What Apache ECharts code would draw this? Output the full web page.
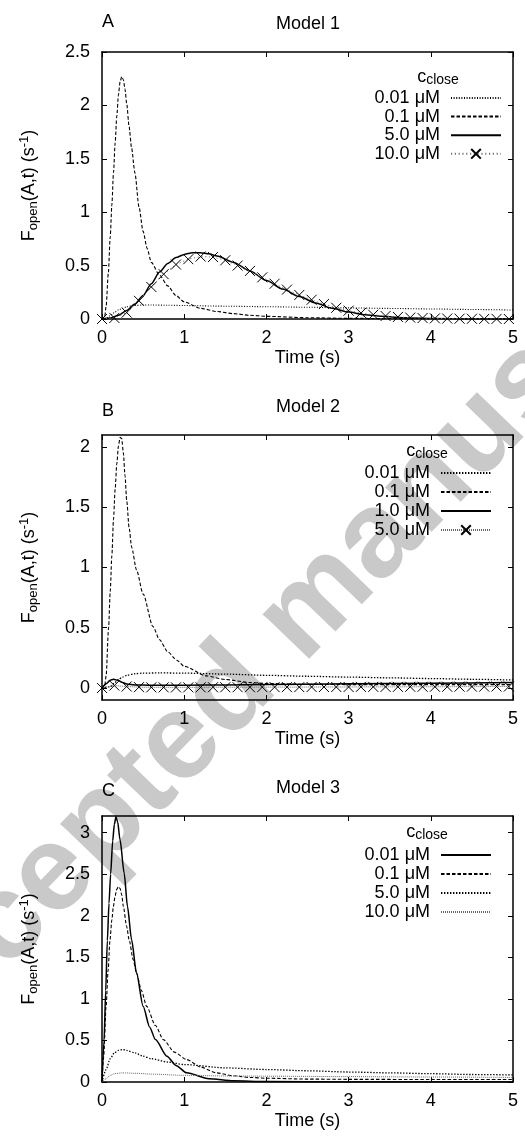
<!DOCTYPE html>
<html>
<head>
<meta charset="utf-8">
<script src="https://cdn.jsdelivr.net/npm/echarts@6/dist/echarts.min.js"></script>
<style>
  html, body { margin: 0; padding: 0; background: #fff; }
  #chart { width: 525px; height: 1142px; }
</style>
</head>
<body>
<div id="chart"></div>
<script>
// ---------------- data ----------------
const timeTicks = [0, 1, 2, 3, 4, 5];
const yTicksA = [0, 0.5, 1, 1.5, 2, 2.5];
const yTicksB = [0, 0.5, 1, 1.5, 2];
const yTicksC = [0, 0.5, 1, 1.5, 2, 2.5, 3];
const panelLetters = ['A', 'B', 'C'];
const panelTitles = ['Model 1', 'Model 2', 'Model 3'];
const legendA = ['0.01 μM', '0.1 μM', '5.0 μM', '10.0 μM'];
const legendB = ['0.01 μM', '0.1 μM', '1.0 μM', '5.0 μM'];
const legendC = ['0.01 μM', '0.1 μM', '5.0 μM', '10.0 μM'];
const watermarkText = 'Accepted manuscript';

// Model 1
const tA1 = [0, 0.05, 0.1, 0.15, 0.2, 0.25, 0.3, 0.4, 0.5, 0.6, 0.8, 1.0, 1.5, 2.0, 2.5, 3.0, 3.5, 4.0, 4.5, 5.0];
const fA1 = [0, 0.005, 0.03, 0.06, 0.085, 0.1, 0.115, 0.127, 0.131, 0.131, 0.129, 0.126, 0.12, 0.115, 0.11, 0.104, 0.099, 0.094, 0.089, 0.084];
const tA2 = [0, 0.03, 0.05, 0.077, 0.1, 0.12, 0.14, 0.16, 0.18, 0.2, 0.22, 0.24, 0.26, 0.28, 0.3, 0.33, 0.36, 0.4, 0.45, 0.5, 0.55, 0.6, 0.7, 0.8, 0.9, 1.0, 1.2, 1.4, 1.6, 1.8, 2.0, 2.5, 3.0, 4.0, 5.0];
const fA2 = [0, 0, 0.12, 0.43, 0.77, 1.07, 1.37, 1.65, 1.9, 2.1, 2.22, 2.27, 2.24, 2.15, 2.02, 1.8, 1.6, 1.37, 1.05, 0.82, 0.66, 0.53, 0.41, 0.31, 0.22, 0.16, 0.1, 0.07, 0.05, 0.035, 0.025, 0.012, 0.006, 0.002, 0];
const tA3 = [0, 0.1, 0.2, 0.3, 0.4, 0.5, 0.6, 0.7, 0.8, 0.9, 1.0, 1.1, 1.2, 1.3, 1.4, 1.6, 1.8, 2.0, 2.2, 2.4, 2.6, 2.8, 3.0, 3.2, 3.4, 3.6, 3.8, 4.0, 4.5, 5.0];
const fA3 = [0, 0.01, 0.035, 0.08, 0.14, 0.22, 0.33, 0.44, 0.52, 0.575, 0.605, 0.62, 0.62, 0.61, 0.59, 0.53, 0.45, 0.36, 0.28, 0.21, 0.15, 0.1, 0.065, 0.04, 0.025, 0.015, 0.009, 0.005, 0.001, 0];
const tA4 = [0, 0.15, 0.3, 0.45, 0.6, 0.75, 0.9, 1.05, 1.2, 1.35, 1.5, 1.65, 1.8, 1.95, 2.1, 2.25, 2.4, 2.55, 2.7, 2.85, 3.0, 3.15, 3.3, 3.45, 3.6, 3.75, 3.9, 4.05, 4.2, 4.35, 4.5, 4.65, 4.8, 4.95];
const fA4 = [0, 0.01, 0.06, 0.17, 0.3, 0.42, 0.51, 0.56, 0.585, 0.58, 0.55, 0.5, 0.45, 0.39, 0.33, 0.275, 0.225, 0.18, 0.14, 0.105, 0.078, 0.056, 0.04, 0.028, 0.019, 0.013, 0.009, 0.006, 0.004, 0.003, 0.002, 0.001, 0.001, 0];

// Model 2
const tB1 = [0, 0.1, 0.15, 0.2, 0.25, 0.3, 0.4, 0.5, 0.7, 1.0, 1.5, 2.0, 2.5, 3.0, 3.5, 4.0, 4.5, 5.0];
const fB1 = [0, 0.01, 0.04, 0.07, 0.09, 0.105, 0.118, 0.123, 0.125, 0.123, 0.115, 0.105, 0.097, 0.09, 0.084, 0.078, 0.072, 0.066];
const tB2 = [0, 0.03, 0.05, 0.08, 0.1, 0.12, 0.14, 0.16, 0.18, 0.2, 0.22, 0.24, 0.26, 0.28, 0.3, 0.33, 0.36, 0.42, 0.5, 0.62, 0.7, 0.8, 0.91, 1.0, 1.27, 1.5, 1.8, 2.0, 2.5, 3.0, 4.0, 5.0];
const fB2 = [0, 0, 0.1, 0.5, 0.8, 1.1, 1.4, 1.65, 1.86, 2.01, 2.08, 2.07, 1.95, 1.76, 1.56, 1.33, 1.17, 0.98, 0.78, 0.51, 0.4, 0.3, 0.23, 0.18, 0.1, 0.07, 0.045, 0.037, 0.03, 0.028, 0.028, 0.028];
const tB3 = [0, 0.05, 0.1, 0.14, 0.2, 0.25, 0.3, 0.4, 0.6, 1.0, 1.5, 2.0, 3.0, 4.0, 5.0];
const fB3 = [0, 0.035, 0.065, 0.072, 0.062, 0.045, 0.033, 0.025, 0.022, 0.022, 0.025, 0.028, 0.034, 0.04, 0.045];
const tB4 = [0, 0.15, 0.3, 0.45, 0.6, 0.75, 0.9, 1.05, 1.2, 1.35, 1.5, 1.65, 1.8, 1.95, 2.1, 2.25, 2.4, 2.55, 2.7, 2.85, 3.0, 3.15, 3.3, 3.45, 3.6, 3.75, 3.9, 4.05, 4.2, 4.35, 4.5, 4.65, 4.8, 4.95];
const fB4 = [0, 0.02, 0.012, 0.007, 0.005, 0.005, 0.005, 0.005, 0.005, 0.006, 0.006, 0.006, 0.006, 0.007, 0.007, 0.007, 0.007, 0.008, 0.008, 0.008, 0.008, 0.009, 0.009, 0.009, 0.009, 0.01, 0.01, 0.01, 0.01, 0.011, 0.011, 0.011, 0.012, 0.012];

// Model 3
const tC1 = [0, 0.025, 0.045, 0.065, 0.085, 0.105, 0.13, 0.15, 0.17, 0.19, 0.22, 0.27, 0.31, 0.36, 0.42, 0.5, 0.58, 0.65, 0.79, 0.9, 1.03, 1.3, 1.6, 2.0, 3.0, 4.0, 5.0];
const fC1 = [0, 0.5, 1.1, 1.7, 2.15, 2.5, 2.9, 3.1, 3.19, 3.13, 2.91, 2.51, 2.11, 1.71, 1.31, 0.91, 0.66, 0.51, 0.31, 0.2, 0.11, 0.04, 0.015, 0.005, 0.001, 0, 0];
const tC2 = [0, 0.02, 0.05, 0.075, 0.097, 0.12, 0.138, 0.16, 0.18, 0.2, 0.22, 0.24, 0.26, 0.3, 0.33, 0.38, 0.42, 0.48, 0.543, 0.65, 0.746, 0.88, 1.03, 1.2, 1.39, 1.6, 1.8, 2.0, 2.5, 3.0, 4.0, 5.0];
const fC2 = [0, 0.3, 0.91, 1.35, 1.71, 1.95, 2.11, 2.24, 2.32, 2.35, 2.33, 2.25, 2.11, 1.87, 1.71, 1.47, 1.31, 1.1, 0.91, 0.68, 0.51, 0.36, 0.27, 0.18, 0.11, 0.075, 0.055, 0.045, 0.035, 0.032, 0.03, 0.03];
const tC3 = [0, 0.05, 0.1, 0.15, 0.2, 0.25, 0.3, 0.4, 0.5, 0.6, 0.8, 1.0, 1.5, 2.0, 2.5, 3.0, 3.5, 4.0, 4.5, 5.0];
const fC3 = [0, 0.15, 0.28, 0.35, 0.38, 0.39, 0.38, 0.35, 0.31, 0.28, 0.24, 0.21, 0.17, 0.15, 0.135, 0.12, 0.11, 0.1, 0.09, 0.085];
const tC4 = [0, 0.05, 0.1, 0.15, 0.25, 0.4, 0.6, 1.0, 1.5, 2.0, 3.0, 4.0, 5.0];
const fC4 = [0, 0.04, 0.08, 0.1, 0.11, 0.105, 0.095, 0.08, 0.073, 0.07, 0.065, 0.06, 0.055];

// ---------------- styling ----------------
const FONT = '"Liberation Sans", Arial, Helvetica, sans-serif';
const FS = 18;
const CROSS = 'path://M0 0L10 10M10 0L0 10';

const SOLID = { type: 'solid', width: 1.5, color: '#000' };
const DASHED = { type: [3.5, 2], width: 1.1, color: '#000' };
const DOTTED = { type: [1, 1.6], width: 1.1, color: '#000' };
const DOTTED_MED = { type: [1.4, 1.6], width: 1.3, color: '#000' };
const DOTTED_GREY = { type: [1.2, 2.6], width: 1, color: '#777' };
const DOTTED_FINE_GREY = { type: [1, 1], width: 1, color: '#666' };

const panels = [
  {
    grid: { left: 102, top: 52, width: 411, height: 267 },
    yMin: 0, yMax: 2.5, yTicks: yTicksA,
    legend: { names: legendA, right: 23, top: 88.7, lh: 18.6 },
    close: [438, 77], letterY: 22, titleY: 24,
    curves: [
      { t: tA1, f: fA1, line: DOTTED },
      { t: tA2, f: fA2, line: DASHED },
      { t: tA3, f: fA3, line: SOLID },
      { t: tA4, f: fA4, line: DOTTED_GREY, mark: true }
    ]
  },
  {
    grid: { left: 102, top: 435, width: 411, height: 265 },
    yMin: -0.1, yMax: 2.1, yTicks: yTicksB,
    legend: { names: legendB, right: 33, top: 463.5, lh: 19 },
    close: [427, 451], letterY: 411, titleY: 407.5,
    curves: [
      { t: tB1, f: fB1, line: DOTTED_MED },
      { t: tB2, f: fB2, line: DASHED },
      { t: tB3, f: fB3, line: SOLID },
      { t: tB4, f: fB4, line: DOTTED_FINE_GREY, mark: true }
    ]
  },
  {
    grid: { left: 102, top: 816, width: 411, height: 266 },
    yMin: 0, yMax: 3.2, yTicks: yTicksC,
    legend: { names: legendC, right: 33, top: 845.5, lh: 19 },
    close: [427, 832], letterY: 791.5, titleY: 788.5,
    curves: [
      { t: tC1, f: fC1, line: SOLID },
      { t: tC2, f: fC2, line: DASHED },
      { t: tC3, f: fC3, line: DOTTED_MED },
      { t: tC4, f: fC4, line: DOTTED_FINE_GREY }
    ]
  }
];

const axisLine = { show: true, onZero: false, lineStyle: { color: '#000', width: 1.5 } };
const tickIn = (vals) => ({ show: true, inside: true, length: 5, lineStyle: { color: '#000', width: 1 }, customValues: vals });

const grid = [], xAxis = [], yAxis = [], series = [], legend = [], graphic = [];

// faint diagonal stamp behind the plots
graphic.push({
  type: 'text', x: -126, y: 1061, rotation: 46 * Math.PI / 180, z: -10, silent: true,
  style: { text: watermarkText, font: 'bold 122px ' + FONT, fill: '#c9c9c9', align: 'left', verticalAlign: 'middle' }
});

panels.forEach((p, i) => {
  grid.push(Object.assign({ containLabel: false }, p.grid));
  const xi = xAxis.length, yi = yAxis.length;
  xAxis.push({
    type: 'value', gridIndex: i, min: 0, max: 5, position: 'bottom',
    axisLine, axisTick: tickIn(timeTicks), splitLine: { show: false },
    axisLabel: { customValues: timeTicks, color: '#000', fontSize: FS, fontFamily: FONT, margin: 10 },
    name: 'Time (s)', nameLocation: 'middle', nameGap: 30,
    nameTextStyle: { color: '#000', fontSize: FS, fontFamily: FONT }
  });
  xAxis.push({
    type: 'value', gridIndex: i, min: 0, max: 5, position: 'top',
    axisLine, axisTick: tickIn(timeTicks), splitLine: { show: false }, axisLabel: { show: false }
  });
  yAxis.push({
    type: 'value', gridIndex: i, min: p.yMin, max: p.yMax, position: 'left',
    axisLine, axisTick: tickIn(p.yTicks), splitLine: { show: false },
    axisLabel: { customValues: p.yTicks, color: '#000', fontSize: FS, fontFamily: FONT, margin: 12 },
    name: '{f|F}{s|open}{f|(A,t) (s}{p|-1}{f|)}',
    nameLocation: 'middle', nameRotate: 90, nameGap: 62,
    nameTextStyle: {
      color: '#000', fontFamily: FONT, fontSize: FS,
      rich: {
        f: { fontSize: FS, lineHeight: 22, fontFamily: FONT, color: '#000' },
        s: { fontSize: 13, lineHeight: 12, verticalAlign: 'bottom', fontFamily: FONT, color: '#000' },
        p: { fontSize: 13, lineHeight: 12, verticalAlign: 'top', fontFamily: FONT, color: '#000' }
      }
    }
  });
  yAxis.push({
    type: 'value', gridIndex: i, min: p.yMin, max: p.yMax, position: 'right',
    axisLine, axisTick: tickIn(p.yTicks), splitLine: { show: false }, axisLabel: { show: false }
  });

  const ids = [];
  p.curves.forEach((c, k) => {
    const id = panelLetters[i] + '|' + p.legend.names[k];
    ids.push(id);
    series.push({
      type: 'line', name: id, xAxisIndex: xi, yAxisIndex: yi,
      data: c.t.map((t, j) => [t, c.f[j]]),
      smooth: c.mark ? false : 0.25, smoothMonotone: 'x',
      symbol: c.mark ? CROSS : 'none', symbolSize: 10, showSymbol: !!c.mark,
      itemStyle: c.mark
        ? { color: 'rgba(0,0,0,0)', borderColor: '#000', borderWidth: 1 }
        : { color: 'rgba(0,0,0,0)', borderColor: 'rgba(0,0,0,0)', borderWidth: 0 },
      lineStyle: c.line, silent: true, animation: false, z: 3
    });
  });

  legend.push({
    orient: 'vertical', align: 'right', right: p.legend.right, top: p.legend.top,
    padding: 0, itemGap: 0, itemWidth: 50, itemHeight: 12, selectedMode: false,
    data: ids, formatter: (n) => n.split('|')[1],
    textStyle: { color: '#000', fontSize: FS, fontFamily: FONT, lineHeight: p.legend.lh, padding: [0, 6, 0, 0] }
  });

  // panel letter, model title and legend heading
  graphic.push({
    type: 'text', x: 102, y: p.letterY, silent: true,
    style: { text: panelLetters[i], font: FS + 'px ' + FONT, fill: '#000', align: 'left', verticalAlign: 'middle' }
  });
  graphic.push({
    type: 'text', x: 308, y: p.titleY, silent: true,
    style: { text: panelTitles[i], font: FS + 'px ' + FONT, fill: '#000', align: 'center', verticalAlign: 'middle' }
  });
  graphic.push({
    type: 'text', x: p.close[0], y: p.close[1], silent: true,
    style: {
      text: '{c|c}{s|close}', align: 'center', verticalAlign: 'middle',
      rich: {
        c: { fontSize: FS, lineHeight: 20, fontFamily: FONT, fill: '#000' },
        s: { fontSize: 14, lineHeight: 14, verticalAlign: 'bottom', fontFamily: FONT, fill: '#000' }
      }
    }
  });
});

const chart = echarts.init(document.getElementById('chart'), null, { renderer: 'canvas' });
chart.setOption({
  animation: false,
  backgroundColor: '#fff',
  grid, xAxis, yAxis, series, legend, graphic
});
</script>
</body>
</html>
